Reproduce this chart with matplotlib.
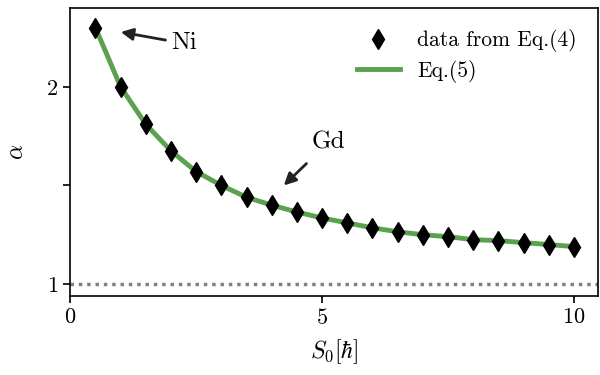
import matplotlib
matplotlib.use('Agg')
import matplotlib.pyplot as plt

plt.rcParams['font.family'] = 'cmr10'
plt.rcParams['mathtext.fontset'] = 'cm'
plt.rcParams['axes.formatter.use_mathtext'] = True

# Data
S0 = [0.5, 1.0, 1.5, 2.0, 2.5, 3.0, 3.5, 4.0, 4.5, 5.0,
      5.5, 6.0, 6.5, 7.0, 7.5, 8.0, 8.5, 9.0, 9.5, 10.0]
alpha = [2.30, 2.00, 1.81, 1.675, 1.57, 1.50, 1.44, 1.40, 1.365, 1.335,
         1.31, 1.285, 1.265, 1.25, 1.24, 1.225, 1.22, 1.21, 1.20, 1.19]

fig = plt.figure(figsize=(6, 3.75), dpi=100)
ax = fig.add_axes([0.117, 0.211, 0.88, 0.768])

ax.axhline(1, color='grey', lw=2.5, ls=(0, (1.0, 1.4)), zorder=1)
ax.plot(S0, alpha, color='#5ba14f', lw=3.5, label='Eq.(5)', zorder=2)
ax.plot(S0, alpha, 'd', color='black', ms=10.5, label='data from Eq.(4)', zorder=3)

ax.annotate('Ni', xy=(0.95, 2.28), xytext=(2.0, 2.22), fontsize=18,
            arrowprops=dict(arrowstyle='-|>', color='#222222', lw=2, mutation_scale=18),
            va='center', ha='left')
ax.annotate('Gd', xy=(4.2, 1.49), xytext=(4.8, 1.72), fontsize=18,
            arrowprops=dict(arrowstyle='-|>', color='#222222', lw=2, mutation_scale=18,
                            shrinkA=8),
            va='center', ha='left')

ax.set_xlim(0, 10.48)
ax.set_ylim(0.94, 2.40)
ax.set_xticks([0, 5, 10])
ax.set_yticks([1, 1.5, 2])
ax.set_yticklabels(['1', '', '2'])
ax.tick_params(labelsize=16, length=5, width=1.2)
for s in ax.spines.values():
    s.set_linewidth(1.2)

ax.set_xlabel(r'$S_0[\hbar]$', fontsize=17, labelpad=7)
ax.set_ylabel(r'$\alpha$', fontsize=17, labelpad=14)

h, l = ax.get_legend_handles_labels()
ax.legend(h[::-1], l[::-1], loc='upper right', frameon=False, fontsize=15.5,
          handlelength=2.0, labelspacing=0.35, borderaxespad=0.6)

fig.savefig('out.png')
